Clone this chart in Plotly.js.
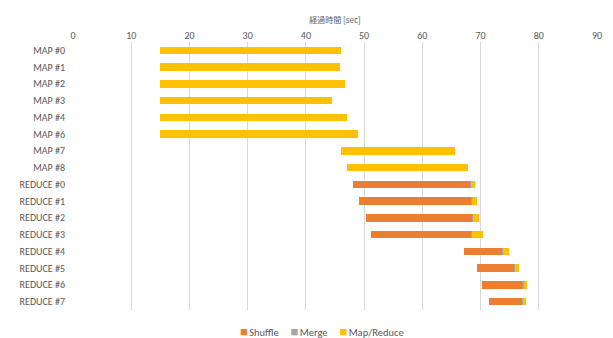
<!DOCTYPE html>
<html>
<head>
<meta charset="utf-8">
<script src="https://cdn.plot.ly/plotly-3.0.1.min.js"></script>
<style>
  html, body { margin: 0; padding: 0; background: #fff; }
  #chart { width: 613px; height: 338px; }
</style>
</head>
<body>
<div id="chart"></div>
<script>
// Task names, top to bottom
const tasks = [
  "MAP #0", "MAP #1", "MAP #2", "MAP #3", "MAP #4", "MAP #6", "MAP #7", "MAP #8",
  "REDUCE #0", "REDUCE #1", "REDUCE #2", "REDUCE #3",
  "REDUCE #4", "REDUCE #5", "REDUCE #6", "REDUCE #7"
];
// Start time of each task [sec]
const startSec = [14.9, 14.9, 14.9, 14.9, 14.9, 14.9, 46.1, 47.0,
                  48.1, 49.2, 50.3, 51.1, 67.2, 69.4, 70.3, 71.4];
// Phase durations [sec]
const shuffleSec = [0, 0, 0, 0, 0, 0, 0, 0,
                    20.1, 19.1, 18.2, 17.3, 6.4, 6.3, 6.9, 5.7];
const mergeSec = [0, 0, 0, 0, 0, 0, 0, 0,
                  0.2, 0.2, 0.2, 0.2, 0.2, 0.3, 0.2, 0.2];
const mapReduceSec = [31.2, 31.0, 31.8, 29.6, 32.1, 34.0, 19.5, 20.8,
                      0.7, 0.9, 1.1, 1.9, 1.0, 0.6, 0.5, 0.5];
const phaseNames = ["Shuffle", "Merge", "Map/Reduce"];
const phaseColors = ["#ED7D31", "#A5A5A5", "#FFC000"];
const xTicks = [0, 10, 20, 30, 40, 50, 60, 70, 80, 90];

const textColor = "#595959";
const fontFamily = "Calibri, Carlito, 'Liberation Sans Narrow', 'Noto Sans', sans-serif";

function phase(name, values, color, show) {
  return {
    type: "bar", orientation: "h", name: name,
    y: tasks, x: values,
    marker: { color: color },
    showlegend: false,
    hoverinfo: show ? "name+x" : "skip"
  };
}

const data = [
  phase("start", startSec, "rgba(0,0,0,0)", false),
  phase(phaseNames[0], shuffleSec, phaseColors[0], true),
  phase(phaseNames[1], mergeSec, phaseColors[1], true),
  phase(phaseNames[2], mapReduceSec, phaseColors[2], true)
];

// Compact legend: colour square followed by the phase name
const legendText = phaseNames.map((n, i) =>
  '<span style="color:' + phaseColors[i] + ';font-size:13px">■</span>&#8202;' + n
).join("&nbsp;&nbsp;&nbsp;&nbsp;&nbsp;");

const layout = {
  width: 613, height: 338,
  margin: { l: 73, r: 16, t: 42, b: 28 },
  paper_bgcolor: "#fff", plot_bgcolor: "#fff",
  font: { family: fontFamily, size: 10, color: textColor },
  barmode: "stack",
  bargap: 0.56,
  showlegend: false,
  xaxis: {
    side: "top",
    range: [0, 90],
    tickvals: xTicks,
    ticktext: xTicks.map(String),
    showgrid: true, gridcolor: "#D9D9D9", gridwidth: 1,
    zeroline: false, showline: false, ticks: "",
    tickfont: { size: 10, color: textColor },
    title: {
      text: "経過時間 [sec]",
      font: { family: "'Noto Sans CJK JP', sans-serif", size: 8, color: textColor },
      standoff: 4
    },
    fixedrange: true
  },
  yaxis: {
    type: "category",
    autorange: "reversed",
    showgrid: false, zeroline: false, showline: false, ticks: "",
    ticklabelstandoff: 7,
    tickfont: { size: 10, color: textColor },
    fixedrange: true
  },
  annotations: [{
    xref: "paper", yref: "paper",
    x: (322 - 73) / 524, y: -(331 - 310) / 268,
    xanchor: "center", yanchor: "middle",
    showarrow: false,
    text: legendText,
    font: { family: fontFamily, size: 10.5, color: textColor }
  }]
};

Plotly.newPlot("chart", data, layout, { displayModeBar: false, staticPlot: true });
</script>
</body>
</html>
